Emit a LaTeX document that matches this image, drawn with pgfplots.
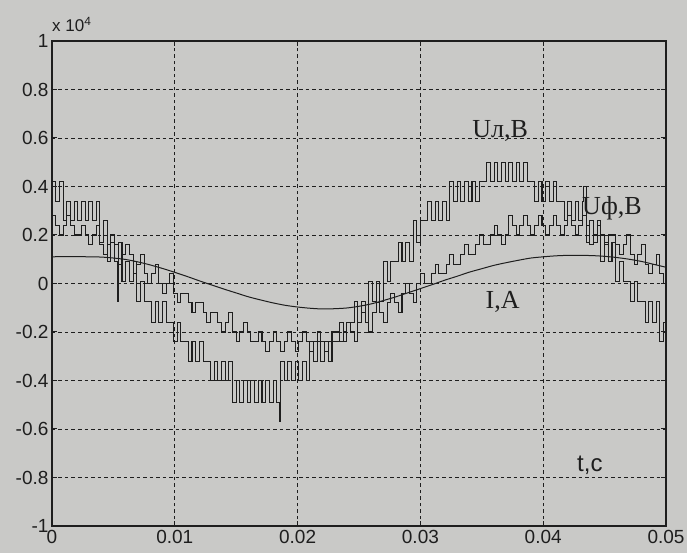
\documentclass[border=0pt]{standalone}
\usepackage{pgfplots}
\pgfplotsset{compat=1.18}
\usepackage{fontspec}
\setmainfont{Liberation Sans}
\newfontfamily\serifcyr{Liberation Serif}
\definecolor{paper}{RGB}{201,201,199}
\definecolor{ink}{RGB}{30,30,30}
\begin{document}
\begin{tikzpicture}
\path[use as bounding box, fill=paper] (-52pt,-27pt) rectangle (635pt,526pt);
\begin{axis}[
  at={(0pt,0pt)}, anchor=south west,
  width=614pt, height=485pt, scale only axis,
  xmin=0, xmax=0.05, ymin=-1, ymax=1,
  xtick={0,0.01,0.02,0.03,0.04,0.05},
  xticklabels={0,0.01,0.02,0.03,0.04,0.05},
  ytick={-1,-0.8,-0.6,-0.4,-0.2,0,0.2,0.4,0.6,0.8,1},
  yticklabels={-1,-0.8,-0.6,-0.4,-0.2,0,0.2,0.4,0.6,0.8,1},
  scaled ticks=false,
  grid=major,
  major grid style={ink, line width=0.9pt, dash pattern=on 3.5pt off 3pt},
  tick align=inside, major tick length=5pt,
  axis line style={ink, line width=1.3pt},
  tick style={ink, line width=1pt},
  ticklabel style={font=\fontsize{19}{22}\selectfont, text=ink},
  xticklabel style={yshift=-1pt},
  clip=true,
]
% U_l (line voltage)
\addplot[const plot, ink, line width=1.05pt] coordinates {
(0,0.42)(0.0003,0.34)(0.0006,0.42)
(0.0009,0.26)(0.0012,0.34)(0.0015,0.26)(0.0018,0.34)(0.0021,0.26)(0.0024,0.34)(0.0027,0.26)(0.0030,0.34)(0.0033,0.26)(0.0036,0.34)
(0.0039,0.17)(0.0042,0.26)
(0.0045,0.09)(0.0048,0.17)(0.0051,0.09)(0.0053,-0.075)(0.0054,0.17)
(0.0057,0.01)(0.0060,0.09)(0.0063,0.01)(0.0066,0.09)
(0.0069,-0.075)(0.0072,0.01)(0.0075,-0.075)
(0.0078,-0.075)(0.0081,-0.16)(0.0084,-0.075)(0.0087,-0.16)(0.0090,-0.075)(0.0093,-0.16)
(0.0096,-0.16)(0.0099,-0.24)(0.0102,-0.16)(0.0105,-0.24)
(0.0108,-0.24)(0.0111,-0.32)(0.0114,-0.24)(0.0117,-0.32)(0.0120,-0.24)(0.0123,-0.32)
(0.0126,-0.32)(0.0129,-0.40)(0.0132,-0.32)(0.0135,-0.40)(0.0138,-0.32)(0.0141,-0.40)(0.0144,-0.32)
(0.0147,-0.49)(0.0150,-0.40)(0.0153,-0.49)(0.0156,-0.40)(0.0159,-0.49)(0.0162,-0.40)(0.0165,-0.49)(0.0168,-0.40)(0.0171,-0.49)(0.0174,-0.40)(0.0177,-0.49)(0.0180,-0.40)(0.0183,-0.49)(0.0185,-0.57)
(0.0186,-0.32)(0.0189,-0.40)(0.0192,-0.32)(0.0195,-0.40)(0.0198,-0.32)(0.0201,-0.40)(0.0204,-0.32)(0.0207,-0.40)
(0.0210,-0.24)(0.0213,-0.32)(0.0216,-0.24)(0.0219,-0.32)(0.0222,-0.24)(0.0225,-0.32)(0.0228,-0.24)
(0.0231,-0.24)(0.0234,-0.16)(0.0237,-0.24)(0.0240,-0.16)
(0.0243,-0.16)(0.0246,-0.075)(0.0249,-0.16)(0.0252,-0.075)(0.0255,-0.16)
(0.0258,0.01)(0.0261,-0.075)(0.0264,0.01)(0.0267,-0.075)
(0.0270,0.09)(0.0273,0.01)(0.0276,0.09)
(0.0279,0.09)(0.0282,0.17)(0.0285,0.09)(0.0288,0.17)(0.0291,0.09)
(0.0294,0.26)(0.0297,0.17)(0.0300,0.26)
(0.0303,0.26)(0.0306,0.34)(0.0309,0.26)(0.0312,0.34)(0.0315,0.26)(0.0318,0.34)(0.0321,0.26)
(0.0324,0.42)(0.0327,0.34)(0.0330,0.42)(0.0333,0.34)(0.0336,0.42)(0.0339,0.34)(0.0342,0.42)(0.0345,0.34)(0.0348,0.42)
(0.0351,0.42)(0.0354,0.50)(0.0357,0.42)(0.0360,0.50)(0.0363,0.42)(0.0366,0.50)(0.0369,0.42)(0.0372,0.50)(0.0375,0.42)(0.0378,0.50)(0.0381,0.42)(0.0384,0.50)(0.0387,0.42)
(0.0390,0.42)(0.0393,0.34)(0.0396,0.42)(0.0399,0.34)(0.0402,0.42)(0.0405,0.34)(0.0408,0.42)(0.0411,0.34)
(0.0414,0.34)(0.0417,0.26)(0.0420,0.34)(0.0423,0.26)(0.0426,0.34)(0.0429,0.26)(0.0432,0.34)(0.0433,0.40)
(0.0435,0.17)(0.0438,0.26)(0.0441,0.17)(0.0444,0.26)
(0.0447,0.09)(0.0450,0.17)(0.0453,0.09)(0.0456,0.17)
(0.0459,0.01)(0.0462,0.09)(0.0465,0.01)
(0.0468,0.01)(0.0471,-0.075)(0.0474,0.01)(0.0477,-0.075)
(0.0480,-0.075)(0.0483,-0.16)(0.0486,-0.075)(0.0489,-0.16)(0.0492,-0.075)
(0.0495,-0.24)(0.0498,-0.16)(0.0500,-0.24)
};
% U_f (phase voltage)
\addplot[const plot, ink, line width=1.05pt] coordinates {
(0,0.28)(0.0003,0.24)(0.0006,0.20)(0.0009,0.24)(0.0012,0.28)(0.0015,0.24)(0.0018,0.20)
(0.0021,0.20)(0.0024,0.24)(0.0027,0.20)(0.0030,0.16)(0.0033,0.20)(0.0036,0.24)
(0.0039,0.16)(0.0042,0.12)(0.0045,0.16)(0.0048,0.20)(0.0051,0.16)
(0.0054,0.08)(0.0057,0.12)(0.0060,0.16)(0.0063,0.12)
(0.0066,0.04)(0.0069,0.08)(0.0072,0.12)
(0.0075,0.04)(0.0078,0)(0.0081,0.04)(0.0084,0.08)
(0.0087,0)(0.0090,-0.04)(0.0093,0)(0.0096,0.04)
(0.0099,-0.04)(0.0102,-0.08)(0.0105,-0.04)
(0.0108,-0.04)(0.0111,-0.08)(0.0114,-0.12)(0.0117,-0.08)
(0.0120,-0.08)(0.0123,-0.12)(0.0126,-0.16)(0.0129,-0.12)
(0.0132,-0.12)(0.0135,-0.16)(0.0138,-0.20)(0.0141,-0.16)(0.0144,-0.12)
(0.0147,-0.20)(0.0150,-0.24)(0.0153,-0.20)(0.0156,-0.16)(0.0159,-0.20)(0.0162,-0.24)
(0.0165,-0.24)(0.0168,-0.20)(0.0171,-0.24)(0.0174,-0.28)(0.0177,-0.24)(0.0180,-0.20)(0.0183,-0.24)(0.0186,-0.28)(0.0189,-0.24)(0.0192,-0.20)(0.0195,-0.24)(0.0198,-0.28)(0.0201,-0.24)(0.0204,-0.20)(0.0207,-0.24)(0.0210,-0.28)(0.0213,-0.24)(0.0216,-0.20)(0.0219,-0.24)(0.0222,-0.28)(0.0225,-0.24)(0.0228,-0.20)
(0.0231,-0.20)(0.0234,-0.24)(0.0237,-0.20)(0.0240,-0.16)(0.0243,-0.20)(0.0246,-0.24)
(0.0249,-0.16)(0.0252,-0.12)(0.0255,-0.16)(0.0258,-0.20)
(0.0261,-0.12)(0.0264,-0.08)(0.0267,-0.12)(0.0270,-0.16)
(0.0273,-0.08)(0.0276,-0.04)(0.0279,-0.08)(0.0282,-0.12)
(0.0285,-0.04)(0.0288,0)(0.0291,-0.04)(0.0294,-0.08)
(0.0297,0)(0.0300,0.04)(0.0303,0)
(0.0306,0)(0.0309,0.04)(0.0312,0.08)(0.0315,0.04)
(0.0318,0.04)(0.0321,0.08)(0.0324,0.12)(0.0327,0.08)
(0.0330,0.08)(0.0333,0.12)(0.0336,0.16)(0.0339,0.12)
(0.0342,0.12)(0.0345,0.16)(0.0348,0.20)(0.0351,0.16)
(0.0354,0.16)(0.0357,0.20)(0.0360,0.24)(0.0363,0.20)(0.0366,0.16)(0.0369,0.20)
(0.0372,0.28)(0.0375,0.24)(0.0378,0.20)(0.0381,0.24)(0.0384,0.28)(0.0387,0.24)(0.0390,0.20)(0.0393,0.24)(0.0396,0.28)(0.0399,0.24)(0.0402,0.20)(0.0405,0.24)(0.0408,0.28)(0.0411,0.24)(0.0414,0.20)(0.0417,0.24)(0.0420,0.28)(0.0423,0.24)(0.0426,0.20)(0.0429,0.24)(0.0432,0.28)(0.0435,0.24)
(0.0438,0.16)(0.0441,0.20)(0.0444,0.24)(0.0447,0.20)(0.0450,0.16)(0.0453,0.20)
(0.0456,0.20)(0.0459,0.16)(0.0462,0.12)(0.0465,0.16)(0.0468,0.20)
(0.0471,0.12)(0.0474,0.08)(0.0477,0.12)(0.0480,0.16)
(0.0483,0.08)(0.0486,0.04)(0.0489,0.08)(0.0492,0.12)
(0.0495,0.04)(0.0498,0)(0.0500,0.04)
};
% current I
\addplot[ink, line width=1pt, smooth] coordinates {
(0,0.110)(0.001,0.111)(0.002,0.111)(0.003,0.110)(0.004,0.109)(0.005,0.105)(0.006,0.099)(0.007,0.089)(0.008,0.0765)(0.009,0.062)
(0.010,0.046)(0.011,0.029)(0.012,0.011)(0.013,-0.006)(0.014,-0.023)(0.015,-0.039)(0.016,-0.055)(0.017,-0.068)(0.018,-0.080)(0.019,-0.090)
(0.020,-0.097)(0.021,-0.102)(0.022,-0.105)(0.023,-0.104)(0.024,-0.101)(0.025,-0.094)(0.026,-0.084)(0.027,-0.070)(0.028,-0.055)(0.029,-0.038)
(0.030,-0.021)(0.031,-0.004)(0.032,0.014)(0.033,0.030)(0.034,0.047)(0.035,0.061)(0.036,0.075)(0.037,0.086)(0.038,0.096)(0.039,0.105)
(0.040,0.110)(0.041,0.114)(0.042,0.116)(0.043,0.116)(0.044,0.115)(0.045,0.112)(0.046,0.107)(0.047,0.100)(0.048,0.091)(0.049,0.079)(0.050,0.067)
};
\node[text=ink, font=\serifcyr\fontsize{26}{28}\selectfont] at (axis cs:0.0365,0.63) {Uл,В};
\node[text=ink, font=\serifcyr\fontsize{26}{28}\selectfont] at (axis cs:0.0456,0.31) {Uф,В};
\node[text=ink, font=\serifcyr\fontsize{26}{28}\selectfont] at (axis cs:0.0367,-0.078) {I,A};
\node[text=ink, font=\fontsize{24}{26}\selectfont] at (axis cs:0.0438,-0.75) {t,c};
\end{axis}
\node[anchor=base west, text=ink, font=\fontsize{17}{20}\selectfont, inner sep=0pt] at (0pt,494pt) {x 10$^{\mathrm{4}}$};
\end{tikzpicture}
\end{document}
